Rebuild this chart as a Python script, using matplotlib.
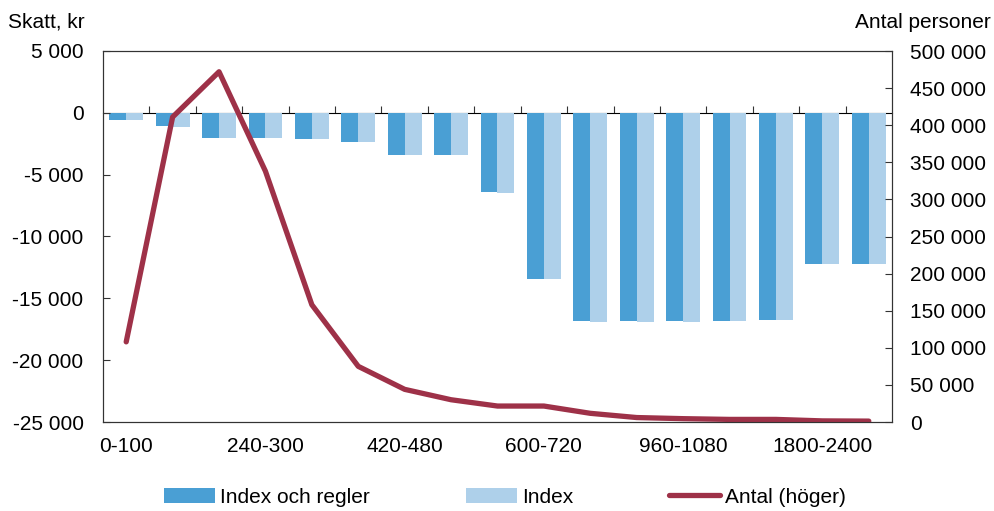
import matplotlib.pyplot as plt
import numpy as np
from matplotlib.ticker import FuncFormatter

plt.rcParams["font.family"] = ["Liberation Sans", "DejaVu Sans"]

categories = ["0-100", "100-180", "180-240", "240-300", "300-360", "360-420",
              "420-480", "480-540", "540-600", "600-720", "720-840", "840-960",
              "960-1080", "1080-1200", "1200-1800", "1800-2400", "2400-"]
index_regler = [-550, -1100, -2000, -2000, -2150, -2320, -3370, -3370, -6400,
                -13430, -16870, -16870, -16870, -16870, -16790, -12210, -12210]
index_only = [-550, -1180, -2000, -2000, -2150, -2320, -3370, -3370, -6480,
              -13450, -16950, -16950, -16950, -16870, -16790, -12210, -12210]
antal = [108000, 411000, 472000, 338000, 158000, 75000, 44000, 30000, 21500,
         21500, 11700, 6000, 4500, 3500, 3500, 1500, 1200]

dark = "#4a9fd4"
light = "#aed0ea"
red = "#9e3148"
axis_col = "#333333"
fs = 15


def space_fmt(v, pos):
    return f"{v:,.0f}".replace(",", " ")


fig = plt.figure(figsize=(9.94, 5.11), dpi=100)
ax = fig.add_axes([103 / 994, 1 - 422 / 511, 789 / 994, 371 / 511])
x = np.arange(len(categories))
w = 0.365
ax.bar(x - w / 2, index_regler, width=w, color=dark, label="Index och regler")
ax.bar(x + w / 2, index_only, width=w, color=light, label="Index")
ax.set_xlim(-0.5, len(categories) - 0.5)
ax.set_ylim(-25000, 5000)
ax.set_yticks(np.arange(-25000, 5001, 5000))
ax.yaxis.set_major_formatter(FuncFormatter(space_fmt))
ax.set_xticks(x[::3])
ax.set_xticklabels(categories[::3])
ax.tick_params(axis="x", length=0, pad=11, labelsize=fs)
ax.tick_params(axis="y", direction="in", length=5, pad=14, labelsize=fs, color=axis_col)
for s in ax.spines.values():
    s.set_color(axis_col)

# category axis crossing at zero
zero_pos = 25000 / 30000
sec = ax.secondary_xaxis(zero_pos)
sec.set_xticks(x[:-1] + 0.5)
sec.set_xticklabels([])
sec.tick_params(direction="out", length=5, color=axis_col)
sec.spines["bottom"].set_color(axis_col)

ax2 = ax.twinx()
ax2.plot(x, antal, color=red, lw=3.8, solid_capstyle="round", label="Antal (höger)")
ax2.set_ylim(0, 500000)
ax2.set_yticks(np.arange(0, 500001, 50000))
ax2.yaxis.set_major_formatter(FuncFormatter(space_fmt))
ax2.tick_params(axis="y", direction="in", length=5, pad=13, labelsize=fs, color=axis_col)
for s in ax2.spines.values():
    s.set_color(axis_col)

fig.text(8 / 994, 1 - 22 / 511, "Skatt, kr", fontsize=fs, va="center", ha="left")
fig.text(991 / 994, 1 - 22 / 511, "Antal personer", fontsize=fs, va="center", ha="right")

h1, l1 = ax.get_legend_handles_labels()
h2, l2 = ax2.get_legend_handles_labels()
fig.legend(h1 + h2, l1 + l2, loc="center", bbox_to_anchor=(505 / 994, 1 - 497 / 511),
           ncol=3, frameon=False, fontsize=fs, handlelength=2.45, handletextpad=0.25,
           columnspacing=4.6, borderaxespad=0)

fig.savefig("out.png", dpi=100)
